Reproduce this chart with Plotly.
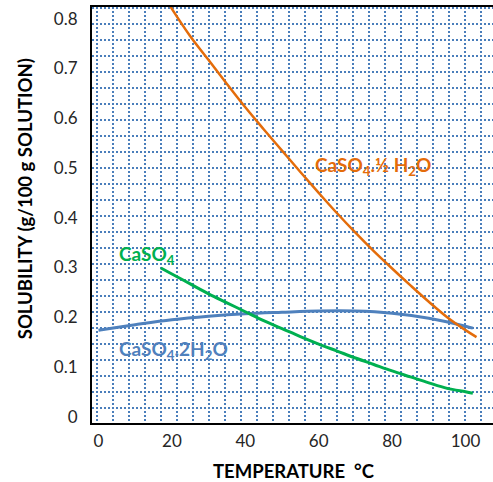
import plotly.graph_objects as go

# ---- data ----
hemi_t = [19, 20, 25, 30, 35, 40, 45, 50, 55, 60, 65, 70, 75, 80, 85, 90, 95, 100, 103]
hemi_s = [0.832, 0.820, 0.765, 0.717, 0.669, 0.622, 0.578, 0.535, 0.492, 0.450, 0.409,
          0.370, 0.333, 0.298, 0.264, 0.231, 0.200, 0.174, 0.160]

anh_t = [17, 20, 25, 30, 35, 40, 45, 50, 55, 60, 65, 70, 75, 80, 85, 90, 95, 100, 102]
anh_s = [0.299, 0.287, 0.267, 0.247, 0.229, 0.211, 0.193, 0.177, 0.161, 0.146, 0.132,
         0.118, 0.105, 0.092, 0.080, 0.068, 0.057, 0.050, 0.047]

gyp_t = [0, 10, 20, 30, 40, 50, 60, 70, 80, 90, 100, 102]
gyp_s = [0.174, 0.185, 0.195, 0.202, 0.207, 0.210, 0.2125, 0.2125, 0.208, 0.198, 0.182, 0.178]

x_ticks = [0, 20, 40, 60, 80, 100]
y_ticks = [0, 0.1, 0.2, 0.3, 0.4, 0.5, 0.6, 0.7, 0.8]
y_tick_text = ["0", "0.1", "0.2", "0.3", "0.4", "0.5", "0.6", "0.7", "0.8"]

ORANGE = "#E46C0A"
GREEN = "#00B050"
BLUE = "#4F81BD"
GRID = "#4A7EBB"
FONT = "Lato"

fig = go.Figure()
fig.add_trace(go.Scatter(x=gyp_t, y=gyp_s, mode="lines", line=dict(color=BLUE, width=3, shape="spline"),
                         showlegend=False, hoverinfo="skip"))
fig.add_trace(go.Scatter(x=anh_t, y=anh_s, mode="lines", line=dict(color=GREEN, width=3, shape="spline"),
                         showlegend=False, hoverinfo="skip"))
fig.add_trace(go.Scatter(x=hemi_t, y=hemi_s, mode="lines", line=dict(color=ORANGE, width=2.5, shape="spline"),
                         showlegend=False, hoverinfo="skip"))

fig.update_layout(
    width=493, height=482, autosize=False,
    margin=dict(l=92, r=0, t=7, b=59, pad=0, autoexpand=False),
    paper_bgcolor="white", plot_bgcolor="white",
    font=dict(family=FONT, color="#262626"),
    xaxis=dict(
        range=[-1.771, 107.49], tickvals=x_ticks, showgrid=False, zeroline=False, automargin=False,
        showline=True, linecolor="black", linewidth=2, mirror=True,
        ticks="outside", ticklen=2, tickcolor="rgba(0,0,0,0)",
        tickfont=dict(size=17, family=FONT, color="#262626"),
        minor=dict(tick0=-0.49, dtick=4.36, showgrid=True, gridcolor=GRID,
                   griddash="2px,2px", gridwidth=1.6, ticks=""),
    ),
    yaxis=dict(
        range=[-0.01267, 0.8237], tickvals=y_ticks, ticktext=y_tick_text, showgrid=False, zeroline=False,
        automargin=False,
        showline=True, linecolor="black", linewidth=2,
        ticks="outside", ticklen=9, tickcolor="rgba(0,0,0,0)",
        tickfont=dict(size=17, family=FONT, color="#262626"),
        minor=dict(tick0=0.0169, dtick=0.03217, showgrid=True, gridcolor=GRID,
                   griddash="2px,2px", gridwidth=1.6, ticks=""),
    ),
    annotations=[
        dict(text="SOLUBILITY (g/100 g SOLUTION)", xref="paper", yref="paper", x=-0.167, y=0.538,
             xanchor="center", yanchor="middle",
             textangle=-90, showarrow=False, font=dict(size=18.5, family=FONT, color="black", weight="bold")),
        dict(text="TEMPERATURE\u00a0\u00a0°C", xref="paper", yref="paper", x=0.504, y=-0.116,
             xanchor="center", yanchor="middle",
             showarrow=False, font=dict(size=18.5, family=FONT, color="black", weight="bold")),
        dict(text="CaSO<sub>4</sub>.½ H<sub>2</sub>O", xref="x", yref="y", x=74.7, y=0.505,
             xanchor="center", yanchor="middle",
             showarrow=False, font=dict(size=19, family=FONT, color=ORANGE, weight="bold")),
        dict(text="CaSO<sub>4</sub>", xref="x", yref="y", x=4.96, y=0.326, xanchor="left", yanchor="middle",
             showarrow=False, font=dict(size=19, family=FONT, color=GREEN, weight="bold")),
        dict(text="CaSO<sub>4</sub>.2H<sub>2</sub>O", xref="x", yref="y", x=4.96, y=0.135, xanchor="left",
             yanchor="middle",
             showarrow=False, font=dict(size=19, family=FONT, color=BLUE, weight="bold")),
    ],
)

fig.write_html("out.html", config={"displayModeBar": False},
               post_script="document.body.style.margin='0';document.body.style.overflow='hidden';")
